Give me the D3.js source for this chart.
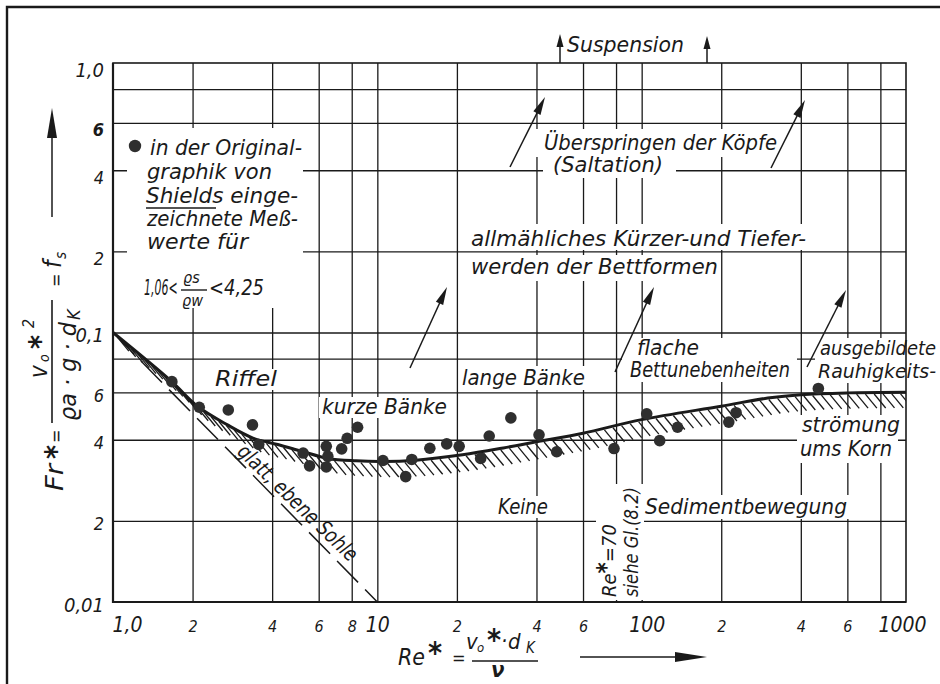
<!DOCTYPE html>
<html><head><meta charset="utf-8">
<script src="https://cdn.jsdelivr.net/npm/d3@7/dist/d3.min.js"></script>
<style>
body{margin:0;background:#fff;}
svg text{font-family:"DejaVu Sans Condensed","DejaVu Sans",sans-serif;font-style:oblique;fill:#1a1a1a;}
</style></head><body>
<svg id="c" width="940" height="684"></svg>
<script>
// ---------- data ----------
const curveRe = [1.0,1.66,2.1,2.7,3.4,4.2,5.2,6.5,8.3,10.5,14,21,30,40,60,100,200,300,400,600,1000];
const curveFr = [0.100,0.066,0.053,0.0455,0.0405,0.0384,0.0362,0.0341,0.0334,0.0332,0.0336,0.0352,0.0373,0.0393,0.0423,0.0475,0.0533,0.0571,0.0588,0.0597,0.0600];
const pointRe = [1.67,2.12,2.73,3.37,3.56,5.24,5.54,6.41,6.50,6.41,7.33,7.69,8.42,10.5,12.8,13.5,15.8,18.3,20.4,24.6,26.5,32.0,40.9,47.7,78.6,104.5,117,136.7,213.6,227.6,466];
const pointFr = [0.0657,0.0528,0.0516,0.0454,0.0384,0.0357,0.0320,0.0378,0.0347,0.0317,0.0370,0.0405,0.0445,0.0335,0.0292,0.0338,0.0372,0.0386,0.0378,0.0341,0.0413,0.0482,0.0417,0.0361,0.0371,0.0499,0.0397,0.0445,0.0465,0.0504,0.0620];
const smoothRe = [1, 10];
const smoothFr = [0.1, 0.01];
const xGridValues = [2,4,6,8,10,20,40,60,80,100,200,400,600,800];
const yGridValues = [0.02,0.04,0.06,0.08,0.1,0.2,0.4,0.6,0.8];
const xTickValues = [1,2,4,6,8,10,20,40,60,100,200,400,600,1000];
const xTickLabels = ["1,0","2","4","6","8","10","2","4","6","100","2","4","6","1000"];
const yTickValues = [1,0.6,0.4,0.2,0.1,0.06,0.04,0.02,0.01];
const yTickLabels = ["1,0","6","4","2","0,1","6","4","2","0,01"];

// ---------- setup ----------
const svg = d3.select("#c");
const L = 113, T = 63, R = 906, B = 602;
const x = d3.scaleLog().domain([1,1000]).range([L,R]);
const y = d3.scaleLog().domain([0.01,1]).range([B,T]);
const ink = "#1a1a1a";

svg.append("rect").attr("width",940).attr("height",684).attr("fill","#fff");
svg.append("path").attr("d","M7,700 V7 H960").attr("fill","none").attr("stroke",ink).attr("stroke-width",2.4);

// grid
const gx = svg.append("g").attr("transform",`translate(0,${B})`)
  .call(d3.axisBottom(x).tickValues(xGridValues).tickSize(-(B-T)).tickFormat(""));
gx.select(".domain").remove();
gx.selectAll("line").attr("stroke",ink).attr("stroke-width",1.3);
const gy = svg.append("g").attr("transform",`translate(${L},0)`)
  .call(d3.axisLeft(y).tickValues(yGridValues).tickSize(-(R-L)).tickFormat(""));
gy.select(".domain").remove();
gy.selectAll("line").attr("stroke",ink).attr("stroke-width",1.3);

// white masks (gridline breaks around lettering)
const masks = svg.append("g").attr("fill","#fff");
const boxes = [
  [127,128,303,308],[533,129,781,157],[543,157,676,178],[466,224,810,250],[466,255,719,281],
  [212,369,280,390],[319,397,450,418],[459,366,587,390],[622,338,797,382],[815,338,940,383],
  [797,415,898,463],[494,496,552,518],[641,495,851,519],[596,484,644,600]
];
boxes.forEach(b=>masks.append("rect").attr("x",b[0]).attr("y",b[1]).attr("width",b[2]-b[0]).attr("height",b[3]-b[1]));

// plot frame
svg.append("rect").attr("x",L).attr("y",T).attr("width",R-L).attr("height",B-T)
  .attr("fill","none").attr("stroke",ink).attr("stroke-width",1.6);
svg.append("path").attr("d",`M${L},${T} V${B} H${R}`).attr("fill","none").attr("stroke",ink).attr("stroke-width",2.2);

// tick labels
const ax = svg.append("g").attr("transform",`translate(0,${B})`)
  .call(d3.axisBottom(x).tickValues(xTickValues).tickFormat((d,i)=>xTickLabels[i]).tickSize(0));
ax.select(".domain").remove();
ax.selectAll("text").attr("dy",null).attr("y",30)
  .attr("font-size",(d,i)=>xTickLabels[i].length>1?21:16)
  .each(function(d,i){ if(i===0) d3.select(this).attr("text-anchor","start").attr("x",-1);
                       if(xTickLabels[i]==="100") d3.select(this).attr("x",5);
                       if(xTickLabels[i]==="1000") d3.select(this).attr("x",-4); });
const ay = svg.append("g").attr("transform",`translate(${L},0)`)
  .call(d3.axisLeft(y).tickValues(yTickValues).tickFormat((d,i)=>yTickLabels[i]).tickSize(0).tickPadding(9));
ay.select(".domain").remove();
ay.selectAll("text").attr("dy",null).attr("y",(d,i)=>i<4?13:9)
  .attr("font-size",(d,i)=>yTickLabels[i].length>1?20:18)
  .attr("font-weight",(d,i)=>i===1?"bold":null);

// clip
svg.append("clipPath").attr("id","plot").append("rect").attr("x",L).attr("y",T).attr("width",R-L).attr("height",B-T);
const plot = svg.append("g").attr("clip-path","url(#plot)");

// smooth bed dashed line
plot.append("path").datum(smoothRe.map((r,i)=>[r,smoothFr[i]]))
  .attr("d",d3.line().x(d=>x(d[0])).y(d=>y(d[1])))
  .attr("fill","none").attr("stroke",ink).attr("stroke-width",1.5).attr("stroke-dasharray","30,10");

// Shields curve
const curveData = curveRe.map((r,i)=>[r,curveFr[i]]);
const curve = plot.append("path").datum(curveData)
  .attr("d",d3.line().x(d=>x(d[0])).y(d=>y(d[1])).curve(d3.curveCatmullRom.alpha(0.5)))
  .attr("fill","none").attr("stroke",ink).attr("stroke-width",3);
const hatch = plot.insert("g",":last-child").attr("stroke",ink).attr("stroke-width",1.3);
const cn = curve.node(), CL = cn.getTotalLength();
for(let s=5; s<CL+10; s+=8.8){
  const p = cn.getPointAtLength(Math.min(s,CL));
  hatch.append("line").attr("x1",p.x+0.5).attr("y1",p.y+1.5).attr("x2",p.x+12).attr("y2",p.y+15.5);
}

// measured points
plot.append("g").selectAll("circle").data(pointRe.map((r,i)=>[r,pointFr[i]])).join("circle")
  .attr("cx",d=>x(d[0])).attr("cy",d=>y(d[1])).attr("r",5.8).attr("fill","#2f2f2f");

// ---------- helpers ----------
function txt(s,xx,yy,size,w){
  const t = svg.append("text").attr("x",xx).attr("y",yy).attr("font-size",size).text(s);
  if(w) t.attr("textLength",w).attr("lengthAdjust","spacingAndGlyphs");
  return t;
}
function arrow(x1,y1,x2,y2,len,hw){
  len = len||18; hw = hw||4;
  const dx=x2-x1, dy=y2-y1, d=Math.hypot(dx,dy), ux=dx/d, uy=dy/d;
  const bx=x2-ux*len, by=y2-uy*len;
  svg.append("line").attr("x1",x1).attr("y1",y1).attr("x2",bx+ux*2).attr("y2",by+uy*2).attr("stroke",ink).attr("stroke-width",1.5);
  svg.append("polygon").attr("points",`${x2},${y2} ${bx-uy*hw},${by+ux*hw} ${bx+uy*hw},${by-ux*hw}`).attr("fill",ink);
}

// ---------- legend ----------
svg.append("circle").attr("cx",135).attr("cy",146).attr("r",6.2).attr("fill","#2f2f2f");
txt("in der Original-",150,155,21,152);
txt("graphik von",147,179,21,125);
txt("Shields einge-",146,203,21,152);
svg.append("line").attr("x1",146).attr("x2",216).attr("y1",208).attr("y2",208).attr("stroke",ink).attr("stroke-width",1.4);
txt("zeichnete Meß-",147,226,21,151);
txt("werte für",147,249,21,101);
svg.append("text").attr("transform","translate(144,295) scale(0.58,1)").attr("font-size",21).text("1,06<");
svg.append("text").attr("x",183).attr("y",283).attr("font-size",16).text("ϱs");
svg.append("line").attr("x1",181).attr("x2",207).attr("y1",290).attr("y2",290).attr("stroke",ink).attr("stroke-width",1.4);
svg.append("text").attr("x",182).attr("y",306).attr("font-size",16).text("ϱw");
svg.append("text").attr("transform","translate(209,295) scale(0.95,1)").attr("font-size",21).text("<4,25");

// ---------- annotations ----------
txt("Suspension",567,52,21,117);
arrow(560,63,560,34,13,3.5);
arrow(707,63,707,36,13,3.5);
txt("Überspringen der Köpfe",544,150,21,233);
txt("(Saltation)",553,172,21,110);
arrow(510,167,545,97);
arrow(771,168,805,100);
txt("allmähliches Kürzer-und Tiefer-",471,246,21,335);
txt("werden der Bettformen",471,274,21,247);
arrow(410,368,447,287);
arrow(615,372,654,287);
arrow(807,367,846,290);
txt("Riffel",215,386,21,62);
txt("kurze Bänke",322,414,21,125);
txt("lange Bänke",462,385,21,123);
txt("flache",637,355,21,62);
txt("Bettunebenheiten",630,377,21,160);
txt("ausgebildete",820,355,19,116);
txt("Rauhigkeits-",818,378,19,118);
txt("strömung",802,432,21,98);
txt("ums Korn",800,456,21,92);
txt("Keine",498,514,21,50);
txt("Sedimentbewegung",645,514,21,202);
svg.append("text").attr("transform","translate(236,453) rotate(44)").attr("font-size",21)
  .attr("textLength",158).attr("lengthAdjust","spacingAndGlyphs").text("glatt, ebene Sohle");
const rv = svg.append("g").attr("transform","rotate(-90)");
const t70 = rv.append("text").attr("x",-597).attr("y",616).attr("font-size",20);
t70.append("tspan").text("Re");
t70.append("tspan").attr("font-size",24).attr("font-weight","bold").attr("dy",-2).text("*");
t70.append("tspan").attr("dy",2).text("=70");
rv.append("text").attr("x",-597).attr("y",638).attr("font-size",20).attr("textLength",110).attr("lengthAdjust","spacingAndGlyphs").text("siehe Gl.(8.2)");

// ---------- y axis title (rotated) ----------
const yt = svg.append("g").attr("transform","rotate(-90)");
function rt(s,lx,ly,size,bold,w){
  const t = yt.append("text").attr("x",lx).attr("y",ly).attr("font-size",size).text(s);
  if(bold) t.attr("font-weight","bold");
  if(w) t.attr("textLength",w).attr("lengthAdjust","spacingAndGlyphs");
  return t;
}
rt("Fr",-491,63,24,false,27);
rt("*",-459,66,30,true);
rt("=",-443,62,18);
yt.append("line").attr("x1",-423).attr("x2",-300).attr("y1",52).attr("y2",52).attr("stroke",ink).attr("stroke-width",1.6);
rt("v",-378,47,24);
rt("o",-362,49,14);
rt("*",-349,50,30,true);
rt("2",-328,34,16);
rt("ϱa · g · d",-421,76,23,false,99);
rt("K",-320,80,18);
rt("=",-287,62,18);
rt("f",-268,61,24);
rt("s",-259,66,15);
arrow(52,217,52,108,30,5);

// ---------- x axis title ----------
txt("Re",398,665,23,27);
svg.append("text").attr("x",428).attr("y",663).attr("font-size",30).attr("font-weight","bold").text("*");
txt("=",452,664,18);
txt("v",466,649,22);
txt("o",477,652,13);
svg.append("text").attr("x",487).attr("y",650).attr("font-size",30).attr("font-weight","bold").text("*");
txt("·",501,648,22);
txt("d",508,649,22);
txt("K",526,653,15);
svg.append("line").attr("x1",472).attr("x2",538).attr("y1",661).attr("y2",661).attr("stroke",ink).attr("stroke-width",1.6);
svg.append("text").attr("x",491).attr("y",677).attr("font-size",22).attr("font-weight","bold").text("ν");
arrow(580,657,707,657,32,5);
</script>
</body></html>
